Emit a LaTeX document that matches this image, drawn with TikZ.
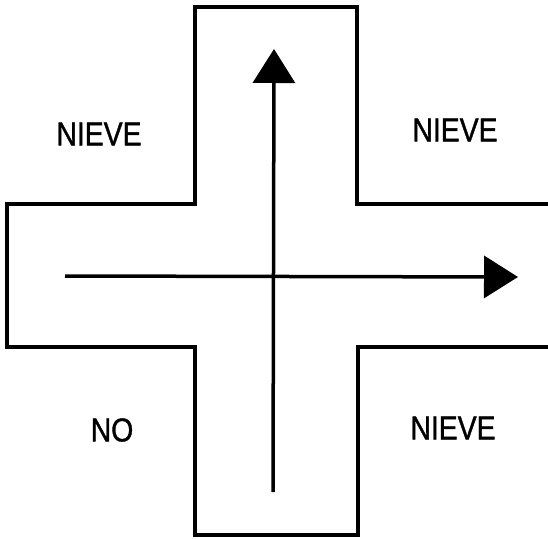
\documentclass[tikz,border=0pt]{standalone}
\usepackage{fontspec}
\setmainfont{Liberation Sans}
\newfontfamily\lblfont{Liberation Sans}[FakeBold=1.2]
\usetikzlibrary{arrows.meta}
\begin{document}
\begin{tikzpicture}[x=1pt,y=-1pt,
  road/.style={line width=3.5pt,line join=miter},
  flow/.style={line width=3.5pt,-{Triangle[length=34pt,width=42pt]}},
  lbl/.style={font=\lblfont\fontsize{33}{33}\selectfont,xscale=0.86,inner sep=0pt}]
\useasboundingbox (0,0) rectangle (548,538);
% cross outline
\draw[road] (549,204) -- (357,204) -- (357,7) -- (195,7) -- (195,204) -- (7,204)
  -- (7,347) -- (195,347) -- (195,535) -- (358,535) -- (358,347) -- (549,347);
% arrows
\coordinate (hs) at (65,276);
\coordinate (he) at (518,277);
\coordinate (vs) at (273,492);
\coordinate (ve) at (274,49);
\draw[flow] (hs) -- (he);
\draw[flow] (vs) -- (ve);
% labels
\node[lbl] (n1) at (99,134) {NIEVE};
\node[lbl] (n2) at (455,130) {NIEVE};
\node[lbl] (n3) at (112,430) {NO};
\node[lbl] (n4) at (453,428) {NIEVE};
\end{tikzpicture}
\end{document}
